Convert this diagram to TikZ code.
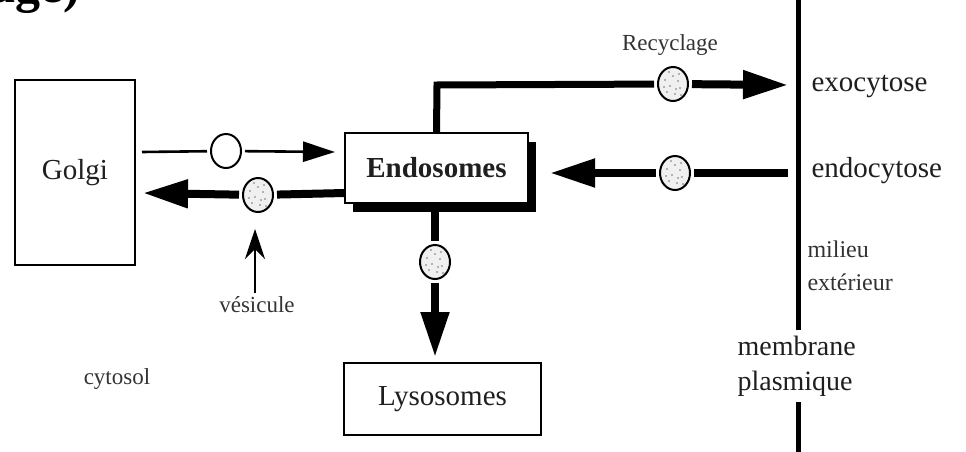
\documentclass[tikz,border=0pt]{standalone}
\usepackage{fontspec}
\setmainfont{Liberation Serif}
\usetikzlibrary{arrows.meta,shapes.geometric,shadows}
\begin{document}
\begin{tikzpicture}[x=1pt,y=-1pt,
  box/.style={draw, line width=2.2pt, inner sep=0pt, fill=white},
  ves/.style={draw, line width=2pt, ellipse, minimum width=30pt, minimum height=34pt, inner sep=0pt, outer sep=4pt, fill=white},
  vesdot/.style={ves, fill=black!6, path picture={
     \foreach \dx/\dy in {-6/-8,2/-10,7/-4,-3/-2,5/3,-8/4,0/8,6/10,-4/12,8/-11,-9/-3,3/-5}
       \fill[black!55] ([xshift=\dx pt,yshift=\dy pt]path picture bounding box.center) circle (0.9pt);}},
  thinline/.style={line width=2.6pt},
  thickline/.style={line width=8pt},
  thinarrow/.style={thinline, -{Triangle[length=32pt,width=20pt]}},
  thickarrow/.style={thickline, -{Triangle[length=45pt,width=27pt]}},
  lbl/.style={font=\fontsize{23}{26}\selectfont, text=black!80},
  big/.style={font=\fontsize{29}{35}\selectfont, text=black!88}
]
\useasboundingbox (0,0) rectangle (966,452);
\clip (0,0) rectangle (966,452);

% title fragment
\node[anchor=base east, inner sep=0pt, font=\fontsize{50}{50}\selectfont\bfseries] (title) at (80,3) {age)};

% boxes
\node[box, big, minimum width=120pt, minimum height=185pt] (golgi) at (75,172.5) {Golgi};
\node[box, big, minimum width=183pt, minimum height=70pt,
      drop shadow={shadow xshift=8pt, shadow yshift=-9pt, fill=black, opacity=1}] (endo) at (436.5,168) {\textbf{Endosomes}};
\node[box, big, minimum width=197pt, minimum height=72pt] (lyso) at (442.5,399) {Lysosomes};

% membrane
\coordinate (memA) at (798,0);
\coordinate (memB) at (798,330);
\coordinate (memC) at (798,402);
\coordinate (memD) at (798,452);
\draw[line width=5pt] (memA) -- (memB);
\draw[line width=5pt] (memC) -- (memD);

% vesicles
\node[ves] (c1) at (226,151) {};
\node[vesdot] (c2) at (258,195) {};
\node[vesdot] (c3) at (673,84) {};
\node[vesdot] (c4) at (675,173) {};
\node[vesdot] (c5) at (435,262) {};

% coordinates
\coordinate (g1) at (142,152);
\coordinate (g2) at (335,152);
\coordinate (e1) at (345,193);
\coordinate (g3) at (143,193);
\coordinate (top) at (437,85);
\coordinate (exo) at (788,85);
\coordinate (endoc) at (788,173);
\coordinate (eR) at (550,173);
\coordinate (eB) at (435,212);
\coordinate (lT) at (435,357);
\coordinate (vs) at (255,293);
\coordinate (vt) at (255,229);

% connectors
\draw[thinline] (g1) -- (c1);
\draw[thinarrow] (c1) -- (g2);
\draw[thickline] (e1) -- (c2);
\draw[thickarrow] (c2) -- (g3);
\draw[line width=7pt] (endo.north) -- (top) -- (c3);
\draw[thickarrow] (c3) -- (exo);
\draw[thickline] (endoc) -- (c4);
\draw[thickarrow] (c4) -- (eR);
\draw[thickline] (eB) -- (c5);
\draw[thickarrow] (c5) -- (lT);
\draw[line width=1.6pt, -{Stealth[length=30pt,width=20pt]}] (vs) -- (vt);

% labels
\node[lbl] (recyc) at (670,45) {Recyclage};
\node[big, anchor=west] (exot) at (808,86) {exocytose};
\node[big, anchor=west] (endot) at (808,171) {endocytose};
\node[lbl, anchor=west, align=left, font=\fontsize{24}{33}\selectfont] (milieu) at (804,266) {milieu\\extérieur};
\node[big, anchor=west, align=left, font=\fontsize{28}{35}\selectfont] (membr) at (734,366) {membrane\\plasmique};
\node[lbl] (vesic) at (257,305) {vésicule};
\node[lbl] (cyto) at (117,379) {cytosol};
\end{tikzpicture}
\end{document}
